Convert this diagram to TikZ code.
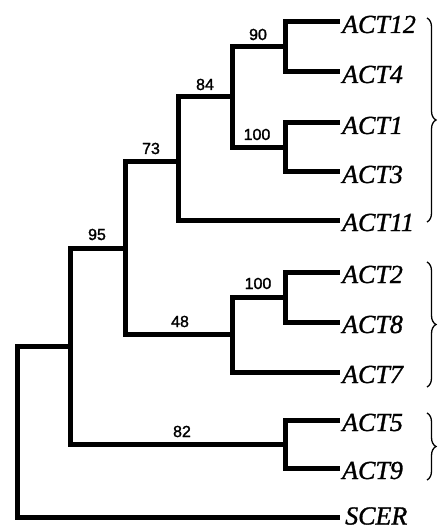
\documentclass[tikz,border=0pt]{standalone}
\usepackage{fontspec}
\setmainfont{Liberation Serif}
\newfontfamily\taxonfont[FakeBold=1.2]{Liberation Serif}
\newfontfamily\supportfont[FakeBold=1.5]{Liberation Sans}
\usetikzlibrary{decorations.pathreplacing}
\begin{document}
\begin{tikzpicture}[x=1pt,y=-1pt,
  branch/.style={line width=5pt, line join=miter, line cap=butt},
  taxon/.style={anchor=base west, inner sep=0pt, font=\taxonfont\fontsize{26}{26}\selectfont\itshape},
  boot/.style={anchor=base, inner sep=0pt, font=\supportfont\fontsize{16}{16}\selectfont},
  clade/.style={decorate, decoration={brace, amplitude=9pt}, line width=1.3pt}]
\useasboundingbox (0,0) rectangle (437,529);

% branch tips
\coordinate (t12) at (340,22);
\coordinate (t4)  at (340,72);
\coordinate (t1)  at (340,123);
\coordinate (t3)  at (340,172);
\coordinate (t11) at (340,220);
\coordinate (t2)  at (340,272);
\coordinate (t8)  at (340,322);
\coordinate (t7)  at (340,372);
\coordinate (t5)  at (340,420);
\coordinate (t9)  at (340,468);
\coordinate (tS)  at (340,517);

% taxon names
\node[taxon] (l12) at (342,33)  {ACT12};
\node[taxon] (l4)  at (342,83)  {ACT4};
\node[taxon] (l1)  at (342,134) {ACT1};
\node[taxon] (l3)  at (342,183) {ACT3};
\node[taxon] (l11) at (342,231) {ACT11};
\node[taxon] (l2)  at (342,283) {ACT2};
\node[taxon] (l8)  at (342,333) {ACT8};
\node[taxon] (l7)  at (342,383) {ACT7};
\node[taxon] (l5)  at (342,431) {ACT5};
\node[taxon] (l9)  at (342,479) {ACT9};
\node[taxon] (lS)  at (345,524.5) {SCER};

% internal nodes
\coordinate (n90)   at (285,47);
\coordinate (n100a) at (285,147.5);
\coordinate (n84)   at (232,97);
\coordinate (n73)   at (178,162);
\coordinate (n100b) at (285,297);
\coordinate (n48)   at (232,334);
\coordinate (n95)   at (125,248);
\coordinate (n82)   at (285,444);
\coordinate (n0)    at (70,346);
\coordinate (root)  at (17,432);

% branches
\draw[branch] (t12) -| (n90) |- (t4);
\draw[branch] (t1) -| (n100a) |- (t3);
\draw[branch] (n90) -| (n84) |- (n100a);
\draw[branch] (n84) -| (n73) |- (t11);
\draw[branch] (t2) -| (n100b) |- (t8);
\draw[branch] (n100b) -| (n48) |- (t7);
\draw[branch] (n73) -| (n95) |- (n48);
\draw[branch] (t5) -| (n82) |- (t9);
\draw[branch] (n95) -| (n0) |- (n82);
\draw[branch] (n0) -| (root) |- (tS);

% bootstrap values
\node[boot] (b90)  at (258,40)  {90};
\node[boot] (b100a) at (257,140) {100};
\node[boot] (b84)  at (205,90)  {84};
\node[boot] (b73)  at (151,154) {73};
\node[boot] (b95)  at (97,240)  {95};
\node[boot] (b100b) at (258,289) {100};
\node[boot] (b48)  at (180,327) {48};
\node[boot] (b82)  at (182,437) {82};

% clade braces
\draw[clade] (427,18) -- (427,222);
\draw[clade] (427,262) -- (427,387);
\draw[clade] (427,413) -- (427,480);
\end{tikzpicture}
\end{document}
